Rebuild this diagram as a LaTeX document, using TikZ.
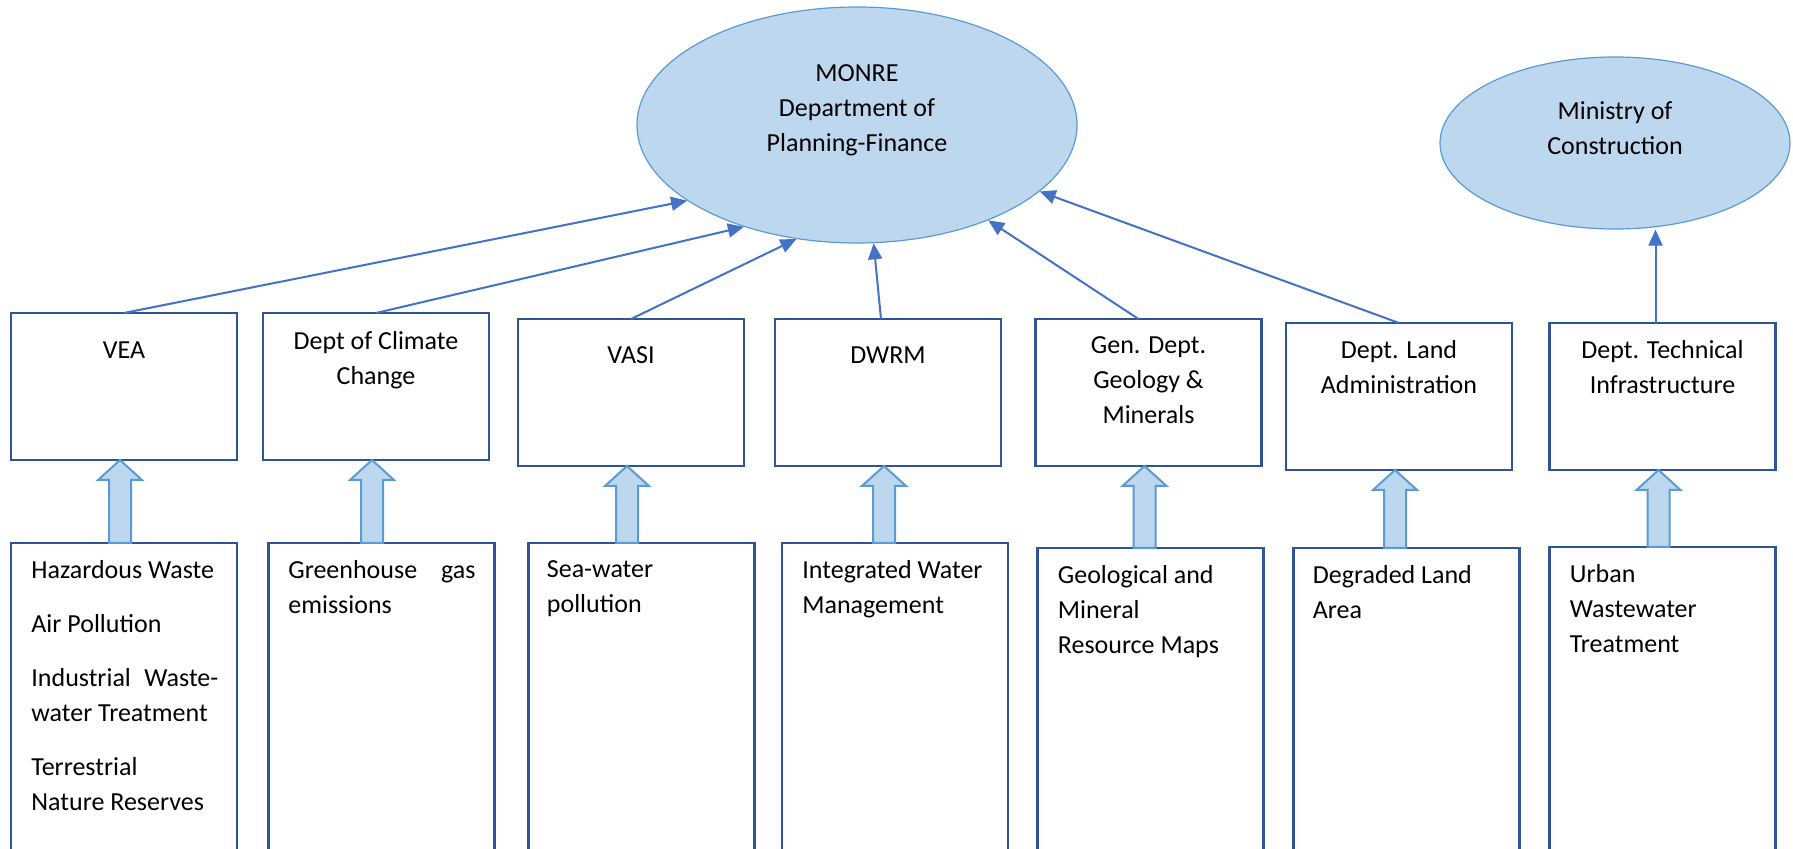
\documentclass[tikz,border=0pt]{standalone}
\usepackage{fontspec}
\setmainfont{Carlito}
\usetikzlibrary{shapes.geometric,arrows.meta,calc}

\definecolor{ovalfill}{HTML}{BDD7EE}
\definecolor{ovalline}{HTML}{5B9BD5}
\definecolor{boxline}{HTML}{2F5597}
\definecolor{linkblue}{HTML}{4472C4}

% 恢复字体本身的词间距
\newcommand{\plainspaces}{\spaceskip=0pt\xspaceskip=0pt\relax}
\newcommand{\fullline}[1]{\makebox[93.5pt][s]{\plainspaces #1}}
% 空心粗箭头：从下方方框指向上方方框
\newcommand{\blockarrow}[2]{%
  \filldraw[fatarrow] let \p1=(#1.north), \p2=([xshift=-2pt]#2.south) in
    (\x2-5.5pt,\y1) -- (\x2-5.5pt,\y2-10pt) -- (\x2-11pt,\y2-10pt) -- (\x2,\y2)
    -- (\x2+11pt,\y2-10pt) -- (\x2+5.5pt,\y2-10pt) -- (\x2+5.5pt,\y1) -- cycle;}

\tikzset{
  oval/.style={ellipse, draw=ovalline, fill=ovalfill, line width=0.6pt, inner sep=0pt},
  dept/.style={draw=boxline, line width=1.2pt, minimum width=113pt, minimum height=73.5pt,
    inner sep=0pt, outer sep=0pt},
  topic/.style={draw=boxline, line width=1.2pt, minimum width=113pt, minimum height=160pt,
    anchor=north, inner sep=0pt, outer sep=0pt},
  deptname/.style={align=center, inner sep=0pt, execute at begin node=\plainspaces,
    font=\fontsize{13pt}{17.5pt}\selectfont\plainspaces},
  topictext/.style={align=left, text width=93.5pt, anchor=north west, inner sep=0pt,
    execute at begin node=\plainspaces, font=\fontsize{13pt}{17.5pt}\selectfont\plainspaces},
  reportline/.style={draw=linkblue, line width=1pt, -{Triangle[length=8pt,width=7pt]}},
  fatarrow/.style={fill=ovalfill, draw=ovalline, line width=1pt},
}

\begin{document}
\begin{tikzpicture}[x=0.5pt, y=-0.5pt]  % 坐标按像素写，y 向下

    \useasboundingbox (0,0) rectangle (1793,849);
    \fill[white] (0,0) rectangle (1793,849);
    \clip (0,0) rectangle (1793,849);

    % 上方两个椭圆
    \node[oval, minimum width=220pt, minimum height=118pt] (monre) at (857,125) {};
    \node[deptname] (monre-t) at (857,110) {MONRE\\Department of\\Planning-Finance};
    \node[oval, minimum width=175pt, minimum height=86pt] (moc) at (1615,143) {};
    \node[deptname] (moc-t) at (1615,128) {Ministry of\\Construction};

    % 中间一排部门方框
    \node[dept] (vea) at (124,386.5) {};
    \node[dept] (climate) at (376,386.5) {};
    \node[dept] (vasi) at (631,392.5) {};
    \node[dept] (dwrm) at (888,392.5) {};
    \node[dept] (geology) at (1148.5,392.5) {};
    \node[dept] (land) at (1399,396.5) {};
    \node[dept] (tech) at (1662.5,396.5) {};

    % 部门名称
    \node[deptname] (vea-t) at (124,350) {VEA};
    \node[deptname] (climate-t) at (376,360) {Dept of Climate\\Change};
    \node[deptname] (vasi-t) at (631,355) {VASI};
    \node[deptname] (dwrm-t) at (888,355) {DWRM};
    \node[deptname] (geology-t) at (1148.5,380) {Gen. Dept.\\Geology \&\\Minerals};
    \node[deptname] (land-t) at (1399,367.5) {Dept. Land\\Administration};
    \node[deptname] (tech-t) at (1662.5,367.5) {Dept. Technical\\Infrastructure};

    % 下方一排指标方框（底边超出画面）
    \node[topic] (haz) at (124,543) {};
    \node[topic] (ghg) at (381.5,543) {};
    \node[topic] (sea) at (641.5,543) {};
    \node[topic] (water) at (895,543) {};
    \node[topic] (maps) at (1150.5,548) {};
    \node[topic] (degraded) at (1406.5,548) {};
    \node[topic] (urban) at (1662.5,547) {};

    % 方框里的文字
    \node[topictext] (haz-t) at ($(haz.north west)+(20,17)$)
        {Hazardous Waste\\[9.5pt]Air Pollution\\[9.5pt]\fullline{Industrial Waste-}\\water Treatment\\[9.5pt]Terrestrial\\Nature Reserves};
    \node[topictext] (ghg-t) at ($(ghg.north west)+(19.5,17)$) {\fullline{Greenhouse gas}\\emissions};
    \node[topictext] (sea-t) at ($(sea.north west)+(18,17)$) {Sea-water\\pollution};
    \node[topictext] (water-t) at ($(water.north west)+(20,17)$) {Integrated Water\\Management};
    \node[topictext] (maps-t) at ($(maps.north west)+(20,17)$) {Geological and\\Mineral\\Resource Maps};
    \node[topictext] (degraded-t) at ($(degraded.north west)+(19,17)$) {Degraded Land\\Area};
    \node[topictext] (urban-t) at ($(urban.north west)+(20,17)$) {Urban\\Wastewater\\Treatment};

    % 粗箭头
    \blockarrow{haz}{vea}
    \blockarrow{ghg}{climate}
    \blockarrow{sea}{vasi}
    \blockarrow{water}{dwrm}
    \blockarrow{maps}{geology}
    \blockarrow{degraded}{land}
    \blockarrow{urban}{tech}

    % 上报连线
    \draw[reportline] (vea.north) -- (monre.204);
    \draw[reportline] (climate.north) -- (monre.222);
    \draw[reportline] (vasi.north) -- (monre.242);
    \draw[reportline] ([xshift=-3.5pt]dwrm.north) -- (monre.278);
    \draw[reportline] ([xshift=-5pt]geology.north) -- (monre.324);
    \draw[reportline] (land.north) -- (monre.340);
    \draw[reportline] ([xshift=-3.5pt]tech.north) -- ([xshift=-3.5pt]tech.north |- moc.south);

\end{tikzpicture}
\end{document}
